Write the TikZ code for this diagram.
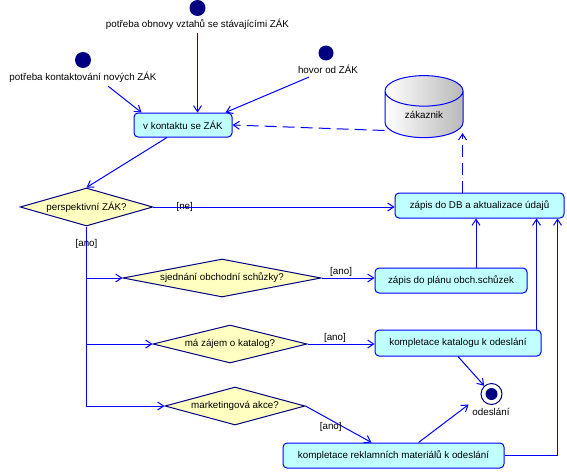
\documentclass[tikz,border=0pt]{standalone}
\usepackage{fontspec}
\setmainfont{Liberation Sans}
\usetikzlibrary{arrows.meta,shapes.geometric}
\definecolor{linkblue}{RGB}{0,0,255}
\definecolor{navy}{RGB}{0,0,128}
\definecolor{actfill}{RGB}{192,255,255}
\definecolor{decfill}{RGB}{255,255,192}

\begin{document}
\begin{tikzpicture}[x=1pt, y=-1pt, font=\fontsize{9.8}{11}\selectfont, line width=1pt,
    act/.style={draw=linkblue, fill=actfill, rounded corners=4pt, inner sep=0pt, minimum height=25pt},
    dec/.style={diamond, draw=navy, fill=decfill, inner sep=0pt, aspect=5, minimum height=38pt},
    start/.style={circle, fill=navy, minimum size=16pt, inner sep=0pt},
    flow/.style={linkblue, -{Straight Barb[length=6pt,width=8pt]}},
    dashflow/.style={flow, dash pattern=on 12pt off 6pt},
    guard/.style={inner sep=1pt, text=black}]
  \useasboundingbox (0,0) rectangle (567,471);
  \node[start] (s1) at (197.5,8) {};
  \node (s1lab) at (197.5,24) {potřeba obnovy vztahů se stávajícími ZÁK};
  \node[start] (s2) at (83,60) {};
  \node (s2lab) at (83,77) {potřeba kontaktování nových ZÁK};
  \node[start, minimum size=15pt] (s3) at (326,53) {};
  \node (s3lab) at (328,69) {hovor od ZÁK};
  \node[act, minimum width=98pt, minimum height=24pt] (vkontaktu) at (183,125) {v kontaktu se ZÁK};
  \node[cylinder, shape border rotate=90, aspect=0.8, draw=linkblue, left color=white, right color=gray!55,
    minimum width=78pt, minimum height=62pt, inner sep=0pt] (zakaznik) at (424,114.5) {zákaznik};
  \node[act, minimum width=169pt] (zapisDB) at (479.5,205.5) {zápis do DB a aktualizace údajů};
  \node[dec, minimum width=131pt] (perspektivni) at (86.5,207) {perspektivní ZÁK?};
  \node[dec, minimum width=198pt] (sjednani) at (222,278) {sjednání obchodní schůzky?};
  \node[act, minimum width=152pt] (zapisPlan) at (451,280.5) {zápis do plánu obch.schůzek};
  \node[dec, minimum width=154pt] (katalog) at (230,344) {má zájem o katalog?};
  \node[act, minimum width=166pt, minimum height=26pt] (kompKatalog) at (458,343) {kompletace katalogu k odeslání};
  \node[dec, minimum width=140pt] (marketing) at (235,406) {marketingová akce?};
  \node[act, minimum width=221pt] (kompReklam) at (393.5,455.5) {kompletace reklamních materiálů k odeslání};
  \node[circle, draw=navy, minimum size=21pt, inner sep=0pt] (odeslani) at (491.5,394) {};
  \fill[navy] (odeslani.center) circle (6);
  \node (odeslaniLab) at (491,412) {odeslání};

  \draw[flow] ([xshift=25pt]s2lab.south) -- ([xshift=8pt]vkontaktu.north west);
  \draw[flow] (s1lab) -- (vkontaktu.north -| s1lab);
  \draw[flow] (s3lab) -- ([xshift=-7pt]vkontaktu.north east);
  \draw[dashflow] ([yshift=-16pt]zakaznik.west) -- (vkontaktu.east);
  \draw[flow] ([xshift=-16pt]vkontaktu.south) -- (perspektivni.north);
  \draw[flow] (perspektivni.east) -- (perspektivni.east -| zapisDB.west) node[guard, pos=0.13] {[ne]};
  \draw[dashflow] ([xshift=-17pt]zapisDB.north) coordinate (db) -- ([yshift=5pt]db |- zakaznik.south);
  \draw[flow] (perspektivni.south) |- (marketing.west);
  \node[guard] at ([yshift=-17pt]perspektivni.south) {[ano]};
  \draw[flow] (perspektivni.south |- sjednani.west) -- (sjednani.west);
  \draw[flow] (perspektivni.south |- katalog.west) -- (katalog.west);
  \draw[flow] (sjednani.east) -- (sjednani.east -| zapisPlan.west) node[guard, pos=0.37, above] {[ano]};
  \draw[flow] (katalog.east) -- (katalog.east -| kompKatalog.west) node[guard, pos=0.41, above] {[ano]};
  \draw[flow] (marketing.east) -- ([xshift=-22pt]kompReklam.north) node[guard, pos=0.57, left] {[ano]};
  \draw[flow] ([xshift=25pt]zapisPlan.north) coordinate (pl) -- (pl |- zapisDB.south);
  \draw[flow] ([xshift=-5pt]kompKatalog.north east) coordinate (kk) -- (kk |- zapisDB.south);
  \draw[flow] (kompReklam.east) -| ([xshift=-7pt]zapisDB.south east);
  \draw[flow] (kompKatalog.south) -- (odeslani);
  \draw[flow] ([xshift=25pt]kompReklam.north) -- (odeslaniLab.north west);
\end{tikzpicture}
\end{document}
